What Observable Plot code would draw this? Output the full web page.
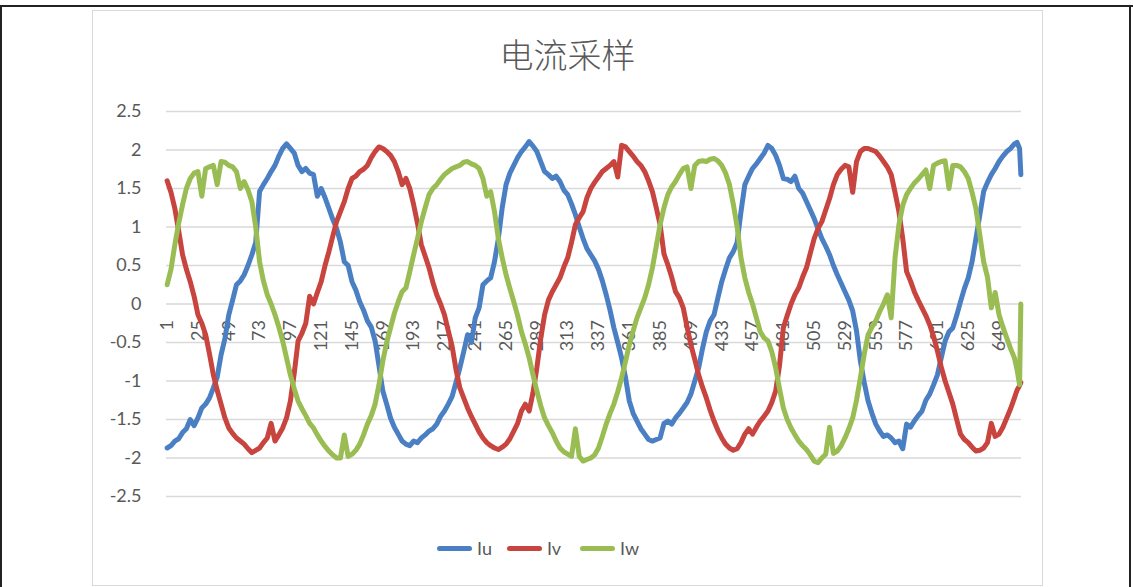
<!DOCTYPE html>
<html>
<head>
<meta charset="utf-8">
<script src="https://cdn.jsdelivr.net/npm/d3@7"></script>
<script src="https://cdn.jsdelivr.net/npm/@observablehq/plot@0.6"></script>
<style>
  html, body { margin: 0; padding: 0; background: #fff; }
  body { width: 1133px; height: 587px; position: relative; overflow: hidden; font-family: Lato, "Noto Sans CJK SC", sans-serif; }
  #topline { position: absolute; left: 0; top: 5px; width: 1133px; height: 2px; background: #222; }
  #leftline { position: absolute; left: 0; top: 5px; width: 2px; height: 582px; background: #222; }
  #rightline { position: absolute; left: 1129px; top: 5px; width: 2px; height: 582px; background: #222; }
  #frame { position: absolute; left: 92px; top: 10px; width: 951px; height: 576px; border: 1px solid #d9d9d9; box-sizing: border-box; }
  #chart { position: absolute; left: 0; top: 0; }
  #title { position: absolute; left: 92px; width: 951px; top: 32px; text-align: center; font-family: "Noto Sans CJK SC", sans-serif; font-weight: 300; font-size: 34px; color: #595959; line-height: 44px; }
  #legend { position: absolute; top: 536px; left: 0; width: 1133px; height: 24px; }
  .item { position: absolute; top: 0; height: 24px; display: flex; align-items: center; font-size: 18px; color: #595959; font-family: Lato, sans-serif; }
  .swatch { display: inline-block; width: 35px; height: 5px; border-radius: 3px; margin-right: 5px; }
</style>
</head>
<body>
<div id="topline"></div>
<div id="leftline"></div>
<div id="rightline"></div>
<div id="frame"></div>
<div id="chart"></div>
<div id="title">电流采样</div>
<div id="legend"></div>
<script>
const sampleIdx = [
  1,4,7,10,13,16,19,22,25,28,31,34,37,40,43,46,49,52,55,58,61,64,67,70,73,76,79,82,85,88,91,94,97,100,103,106,109,112,
  115,118,121,124,127,130,133,136,139,142,145,148,151,154,157,160,163,166,169,172,175,178,181,184,187,190,193,196,199,202,205,208,211,214,217,220,223,226,
  229,232,235,238,241,244,247,250,253,256,259,262,265,268,271,274,277,280,283,286,289,292,295,298,301,304,307,310,313,316,319,322,325,328,331,334,337,340,
  343,346,349,352,355,358,361,364,367,370,373,376,379,382,385,388,391,394,397,400,403,406,409,412,415,418,421,424,427,430,433,436,439,442,445,448,
  451,454,457,460,463,466,469,472,475,478,481,484,487,490,493,496,499,502,505,508,511,514,517,520,523,526,529,532,535,538,541,544,547,550,553,556,559,562,
  565,568,571,574,577,580,583,586,589,592,595,598,601,604,607,610,613,616,619,622,625,628,631,634,637,640,643,646,649,652,655,658,661,663,665,666];

const Iu = [
  -1.87,-1.84,-1.78,-1.75,-1.67,-1.62,-1.50,-1.58,-1.48,-1.35,-1.30,-1.22,-1.09,-0.95,-0.66,-0.45,-0.14,0.05,0.25,0.30,0.38,0.50,0.64,0.80,1.46,1.55,1.63,1.72,1.80,1.92,2.02,2.08,2.02,1.96,1.80,1.72,1.76,1.70,
  1.68,1.40,1.50,1.38,1.24,1.10,0.98,0.80,0.55,0.50,0.29,0.18,0.03,-0.08,-0.22,-0.30,-0.48,-0.80,-1.13,-1.30,-1.48,-1.60,-1.69,-1.78,-1.82,-1.84,-1.78,-1.80,-1.74,-1.70,-1.65,-1.62,-1.56,-1.46,-1.39,-1.30,-1.20,-1.02,
  -0.83,-0.62,-0.40,-0.50,-0.18,-0.05,0.25,0.30,0.34,0.55,0.85,1.25,1.55,1.70,1.80,1.90,1.98,2.04,2.11,2.05,1.98,1.85,1.72,1.68,1.63,1.66,1.59,1.48,1.42,1.30,1.16,1.00,0.85,0.72,0.64,0.56,0.45,0.30,
  0.12,-0.08,-0.31,-0.50,-0.70,-0.95,-1.26,-1.42,-1.52,-1.62,-1.69,-1.76,-1.78,-1.76,-1.74,-1.55,-1.52,-1.56,-1.48,-1.42,-1.35,-1.28,-1.17,-1.00,-0.83,-0.58,-0.36,-0.22,-0.14,0.08,0.29,0.45,0.60,0.68,0.80,1.20,
  1.55,1.66,1.76,1.82,1.89,1.96,2.06,2.02,1.93,1.80,1.63,1.62,1.59,1.66,1.50,1.44,1.33,1.22,1.11,0.98,0.85,0.75,0.64,0.50,0.38,0.27,0.16,0.05,-0.09,-0.35,-0.74,-1.02,-1.26,-1.42,-1.56,-1.65,-1.72,-1.70,
  -1.74,-1.80,-1.78,-1.88,-1.56,-1.60,-1.52,-1.45,-1.39,-1.25,-1.17,-1.05,-0.92,-0.70,-0.48,-0.36,-0.31,-0.15,0.03,0.20,0.34,0.55,0.85,1.15,1.46,1.58,1.68,1.76,1.85,1.92,1.98,2.02,2.08,2.10,2.02,1.68];

const Iv = [
  1.60,1.45,1.24,0.95,0.64,0.45,0.29,0.10,-0.14,-0.25,-0.40,-0.65,-0.92,-1.12,-1.30,-1.48,-1.61,-1.68,-1.74,-1.78,-1.82,-1.88,-1.93,-1.90,-1.87,-1.80,-1.74,-1.55,-1.78,-1.70,-1.61,-1.48,-1.26,-0.90,-0.48,-0.38,-0.25,0.10,
  0.00,0.15,0.29,0.50,0.68,0.88,1.07,1.20,1.33,1.50,1.63,1.66,1.72,1.75,1.80,1.90,1.98,2.04,2.02,1.98,1.93,1.85,1.72,1.55,1.63,1.50,1.29,1.05,0.77,0.62,0.47,0.28,0.12,0.00,-0.14,-0.35,-0.55,-0.85,
  -1.09,-1.22,-1.35,-1.46,-1.56,-1.66,-1.74,-1.80,-1.84,-1.87,-1.89,-1.86,-1.82,-1.75,-1.65,-1.55,-1.39,-1.30,-1.39,-1.15,-0.83,-0.45,-0.14,0.05,0.16,0.25,0.34,0.48,0.60,0.80,1.03,1.12,1.20,1.38,1.50,1.58,1.65,1.72,
  1.76,1.80,1.85,1.65,2.06,2.04,1.98,1.92,1.85,1.80,1.72,1.60,1.46,1.25,1.03,0.65,0.51,0.35,0.16,0.08,-0.05,-0.30,-0.53,-0.72,-0.92,-1.08,-1.22,-1.38,-1.52,-1.64,-1.74,-1.82,-1.87,-1.90,-1.88,-1.80,
  -1.69,-1.62,-1.69,-1.60,-1.52,-1.46,-1.39,-1.28,-1.13,-0.80,-0.31,-0.15,0.00,0.12,0.21,0.35,0.47,0.66,0.85,0.98,1.07,1.22,1.37,1.55,1.68,1.75,1.80,1.78,1.45,1.85,1.98,2.02,2.02,2.00,1.98,1.92,1.85,1.78,
  1.68,1.45,1.20,0.85,0.42,0.30,0.16,0.05,-0.05,-0.15,-0.27,-0.42,-0.61,-0.82,-1.00,-1.15,-1.30,-1.50,-1.69,-1.76,-1.80,-1.86,-1.91,-1.90,-1.87,-1.80,-1.55,-1.72,-1.69,-1.60,-1.48,-1.36,-1.22,-1.12,-1.06,-1.02];

const Iw = [
  0.25,0.45,0.77,1.05,1.29,1.50,1.63,1.70,1.72,1.40,1.76,1.78,1.80,1.55,1.85,1.84,1.80,1.78,1.72,1.50,1.59,1.48,1.33,1.00,0.55,0.30,0.12,0.00,-0.14,-0.30,-0.48,-0.70,-0.92,-1.10,-1.26,-1.36,-1.45,-1.55,
  -1.61,-1.70,-1.78,-1.85,-1.91,-1.96,-2.00,-2.00,-1.70,-1.98,-1.95,-1.90,-1.82,-1.70,-1.56,-1.45,-1.30,-1.05,-0.74,-0.50,-0.31,-0.12,0.03,0.16,0.21,0.42,0.64,0.85,1.07,1.25,1.42,1.50,1.55,1.62,1.68,1.72,1.76,1.78,
  1.80,1.84,1.85,1.82,1.80,1.76,1.63,1.40,1.46,1.20,0.85,0.60,0.38,0.20,0.03,-0.15,-0.36,-0.52,-0.70,-0.92,-1.13,-1.32,-1.48,-1.58,-1.67,-1.78,-1.87,-1.92,-1.95,-1.98,-1.62,-1.98,-2.04,-2.02,-2.00,-1.96,-1.87,-1.72,
  -1.56,-1.42,-1.30,-1.14,-0.96,-0.75,-0.53,-0.35,-0.18,-0.05,0.08,0.25,0.47,0.75,1.03,1.25,1.42,1.52,1.59,1.68,1.76,1.78,1.50,1.80,1.85,1.86,1.85,1.88,1.89,1.86,1.80,1.70,1.55,1.30,1.00,0.60,
  0.34,0.15,0.00,-0.18,-0.36,-0.44,-0.48,-0.62,-0.83,-1.10,-1.35,-1.50,-1.61,-1.70,-1.78,-1.84,-1.89,-1.96,-2.04,-2.06,-2.00,-1.95,-1.60,-1.94,-1.91,-1.84,-1.74,-1.62,-1.48,-1.25,-0.96,-0.65,-0.40,-0.30,-0.22,-0.10,0.00,0.12,
  -0.18,0.60,1.03,1.28,1.42,1.50,1.57,1.62,1.68,1.74,1.50,1.80,1.83,1.85,1.86,1.50,1.80,1.80,1.78,1.72,1.63,1.45,1.24,0.90,0.55,0.35,-0.05,0.15,-0.14,-0.30,-0.44,-0.58,-0.70,-0.85,-1.05,0.00];

const seriesNames = ["Iu", "Iv", "Iw"];
const seriesColors = ["#4a7fc4", "#c8443f", "#99bd52"];
const yTicks = [-2.5, -2, -1.5, -1, -0.5, 0, 0.5, 1, 1.5, 2, 2.5];
const xTickLabels = [1,25,49,73,97,121,145,169,193,217,241,265,289,313,337,361,385,409,433,457,481,505,529,553,577,601,625,649];
const nCategories = 666;

const seriesValues = [Iu, Iv, Iw];

const lineMarks = seriesValues.map((vals, s) =>
  Plot.line(sampleIdx, {
    x: d => d,
    y: (d, i) => vals[i],
    stroke: seriesColors[s],
    strokeWidth: 5,
    strokeLinejoin: "round",
    strokeLinecap: "round"
  })
);

const chart = Plot.plot({
  width: 1133,
  height: 587,
  marginLeft: 166,
  marginRight: 112,
  marginTop: 111,
  marginBottom: 91,
  style: { background: "transparent", color: "#595959", overflow: "visible" },
  x: { domain: [0.5, nCategories + 0.5], axis: null },
  y: { domain: [-2.5, 2.5], axis: null },
  marks: [
    Plot.ruleY(yTicks, { stroke: "#d9d9d9", strokeWidth: 1.5 }),
    Plot.axisY({ ticks: yTicks, tickSize: 0, tickPadding: 25, tickFormat: d => String(d), fontSize: 18, fontFamily: "Lato, sans-serif", fill: "#595959" }),
    Plot.text(xTickLabels, {
      x: d => d, y: 0, text: d => String(d),
      rotate: -90, textAnchor: "end", lineAnchor: "middle",
      dy: 16, fontSize: 18, fontFamily: "Lato, sans-serif", fill: "#595959"
    }),
    ...lineMarks
  ]
});
document.getElementById("chart").appendChild(chart);

// legend
const legend = document.getElementById("legend");
const legendX = [437, 507, 580];
seriesNames.forEach((name, s) => {
  const item = document.createElement("div");
  item.className = "item";
  item.style.left = legendX[s] + "px";
  const sw = document.createElement("span");
  sw.className = "swatch";
  sw.style.background = seriesColors[s];
  item.appendChild(sw);
  item.appendChild(document.createTextNode(name));
  legend.appendChild(item);
});
</script>
</body>
</html>
